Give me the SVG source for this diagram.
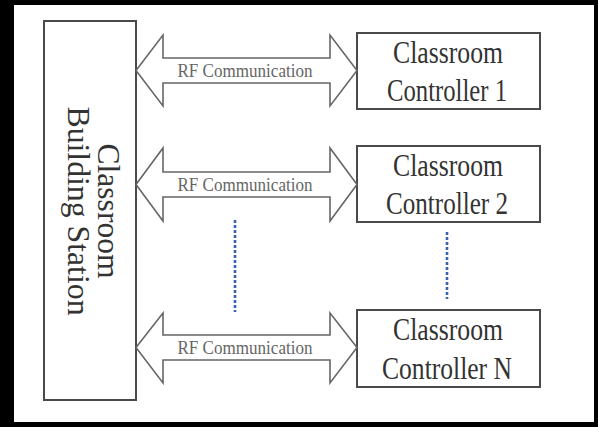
<svg xmlns="http://www.w3.org/2000/svg" width="598" height="427" viewBox="0 0 598 427">
<defs>
<style>
.box{fill:#fff;stroke:#4a4a4a;stroke-width:2}
.arrow{fill:#fff;stroke:#666;stroke-width:1.6;stroke-linejoin:miter}
.big{font-family:"Liberation Serif","Times New Roman",serif;font-size:32px;fill:#333;text-anchor:middle}
.rf{font-family:"Liberation Serif","Times New Roman",serif;font-size:19px;fill:#666;text-anchor:middle}
.dots{stroke:#3b62b0;stroke-width:2.6;stroke-dasharray:3 2;fill:none}
</style>
</defs>
<rect x="0" y="0" width="598" height="427" fill="#000"/>
<rect x="14" y="5" width="580" height="417" fill="#fff"/>
<g id="building-station">
<rect class="box" x="44" y="21" width="92" height="379"/>
<text class="big" transform="translate(88,211) rotate(90)"><tspan x="0" y="-10" textLength="135" lengthAdjust="spacingAndGlyphs">Classroom</tspan><tspan x="0" y="20" textLength="209" lengthAdjust="spacingAndGlyphs">Building Station</tspan></text>
</g>
<g id="controller-1">
<rect class="box" x="357" y="33" width="183" height="76"/>
<text class="big" x="448" y="63" textLength="110" lengthAdjust="spacingAndGlyphs">Classroom</text>
<text class="big" x="447" y="101" textLength="120" lengthAdjust="spacingAndGlyphs">Controller 1</text>
</g>
<g id="controller-2">
<rect class="box" x="357" y="146" width="183" height="76"/>
<text class="big" x="448" y="176" textLength="110" lengthAdjust="spacingAndGlyphs">Classroom</text>
<text class="big" x="447" y="214" textLength="122" lengthAdjust="spacingAndGlyphs">Controller 2</text>
</g>
<g id="controller-n">
<rect class="box" x="357" y="310" width="183" height="77"/>
<text class="big" x="448" y="340" textLength="110" lengthAdjust="spacingAndGlyphs">Classroom</text>
<text class="big" x="447" y="379" textLength="130" lengthAdjust="spacingAndGlyphs">Controller N</text>
</g>
<g id="connectors">
<path class="arrow" d="M136,70.5 L163,35 L163,58 L330,58 L330,35 L357,70.5 L330,106 L330,83 L163,83 L163,106 Z"/>
<text class="rf" x="245" y="77" textLength="135" lengthAdjust="spacingAndGlyphs">RF Communication</text>
<path class="arrow" d="M136,184.5 L163,148 L163,172 L330,172 L330,148 L357,184.5 L330,221 L330,197 L163,197 L163,221 Z"/>
<text class="rf" x="245" y="191" textLength="135" lengthAdjust="spacingAndGlyphs">RF Communication</text>
<path class="arrow" d="M136,347.5 L163,313 L163,335 L330,335 L330,313 L357,347.5 L330,383 L330,360 L163,360 L163,383 Z"/>
<text class="rf" x="245" y="354" textLength="135" lengthAdjust="spacingAndGlyphs">RF Communication</text>
<line class="dots" x1="235" y1="220" x2="235" y2="312"/>
<line class="dots" x1="447" y1="232" x2="447" y2="299"/>
</g>
</svg>
